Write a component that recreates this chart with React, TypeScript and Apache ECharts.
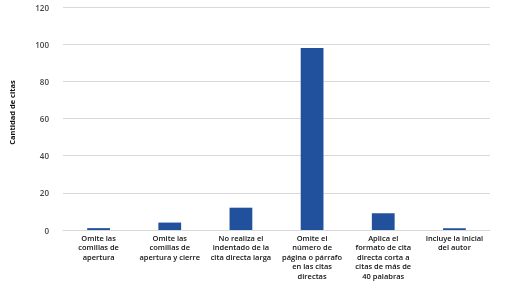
import React, { useEffect, useRef } from "react";
import * as echarts from "echarts";

const categories = [
  "Omite las\ncomillas de\napertura",
  "Omite las\ncomillas de\napertura y cierre",
  "No realiza el\nindentado de la\ncita directa larga",
  "Omite el\nnúmero de\npágina o párrafo\nen las citas\ndirectas",
  "Aplica el\nformato de cita\ndirecta corta a\ncitas de más de\n40 palabras",
  "Incluye la inicial\ndel autor",
];
const values = [1, 4, 12, 98, 9, 1];
const yAxisName = "Cantidad de citas";

export default function App() {
  const ref = useRef<HTMLDivElement>(null);
  useEffect(() => {
    document.body.style.margin = "0";
    const chart = echarts.init(ref.current!, null, { renderer: "svg" });
    chart.setOption({
      animation: false,
      grid: { left: 63, right: 17, top: 7, bottom: 57, containLabel: false },
      xAxis: {
        type: "category",
        data: categories,
        axisLine: { show: true, lineStyle: { color: "#d9d9d9", width: 1 } },
        axisTick: { show: false },
        axisLabel: {
          interval: 0,
          margin: 3,
          fontSize: 7.5,
          lineHeight: 9.5,
          fontWeight: 600,
          fontFamily: "Open Sans",
          color: "#111",
        },
      },
      yAxis: {
        type: "value",
        min: 0,
        max: 120,
        interval: 20,
        name: yAxisName,
        nameLocation: "middle",
        nameGap: 47,
        nameTextStyle: {
          fontSize: 7.5,
          fontWeight: 700,
          fontFamily: "Open Sans",
          color: "#111",
          padding: [0, 0, 0, 12],
        },
        axisLine: { show: false },
        axisTick: { show: false },
        splitLine: { lineStyle: { color: "#d9d9d9", width: 1 } },
        axisLabel: { margin: 14, fontSize: 8, fontWeight: 600, fontFamily: "Open Sans", color: "#444" },
      },
      series: [
        {
          type: "bar",
          data: values,
          barWidth: "32%",
          itemStyle: { color: "#21509C" },
        },
      ],
    });
    return () => chart.dispose();
  }, []);
  return <div ref={ref} style={{ position: "fixed", left: 0, top: 0, width: 507, height: 287 }} />;
}
